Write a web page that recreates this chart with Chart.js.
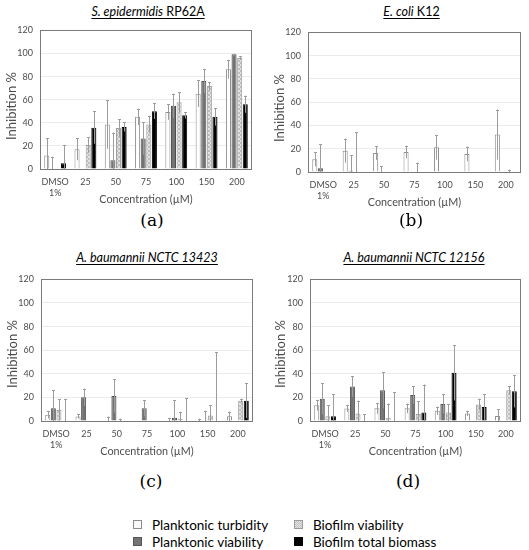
<!DOCTYPE html>
<html>
<head>
<meta charset="utf-8">
<script src="https://cdn.jsdelivr.net/npm/chart.js@4.4.1/dist/chart.umd.min.js"></script>
<style>
  html, body { margin:0; padding:0; background:#fff; }
  body { width:529px; height:550px; position:relative; overflow:hidden; font-family: Lato, "Open Sans", sans-serif; }
  .panel { position:absolute; }
  .ttl { position:absolute; text-align:center; font-size:12.5px; line-height:14px; color:#000; white-space:nowrap; }
  .ttl u { text-decoration: underline; text-underline-offset: 2px; }
  .ytl { position:absolute; width:100px; height:16px; line-height:16px; text-align:center; font-size:13px; color:#4d4d4d; transform: rotate(-90deg); white-space:nowrap; }
  .lab { position:absolute; font-family:"DejaVu Serif", serif; font-size:17px; line-height:20px; color:#000; text-align:center; width:40px; }
  .leg { position:absolute; font-size:13.5px; line-height:16px; color:#000; white-space:nowrap; }
  .sw { position:absolute; width:7px; height:7px; box-sizing:content-box; }
</style>
</head>
<body>

<script>
// ---------- DATA ----------
const categories = [["DMSO", "1%"], "25", "50", "75", "100", "150", "200"];
const yTicks = [0, 20, 40, 60, 80, 100, 120];
const seriesNames = ["Planktonic turbidity", "Planktonic viability", "Biofilm viability", "Biofilm total biomass"];

// (a) S. epidermidis RP62A
const aTurbidity     = [11.7, 17.2, 38.6, 45.2, 49.3, 65.2, 86.3];
const aTurbidityErr  = [15, 9.6, 21, 7, 6.7, 11.5, 8.2];
const aViability     = [0.5, 0.5, 7.6, 26.3, 54.7, 76.1, 99.4];
const aViabilityErr  = [10, 0, 24, 14, 10.5, 10.4, 0.5];
const aBiofilmViab   = [0, 20.8, 35.6, 38.6, 57.8, 71.8, 96.2];
const aBiofilmViabErr= [0, 7, 7.6, 7.4, 8.8, 3.5, 1.5];
const aBiomass       = [4.9, 35.8, 36.4, 50.1, 46.5, 45.2, 56.1];
const aBiomassErr    = [16, 14, 4, 6.8, 2.8, 7.6, 7.4];

// (b) E. coli K12
const bTurbidity     = [10.9, 18.3, 16.4, 17.2, 21.3, 15.5, 32.2];
const bTurbidityErr  = [6, 10.4, 6, 5.4, 10.6, 6.3, 21.5];
const bViability     = [3.3, 1.1, 0, 0, 0, 0, 0];
const bViabilityErr  = [20.5, 13.4, 5, 0, 0, 0, 0];
const bBiofilmViab   = [0, 0, 0, 0, 0, 0, 0];
const bBiofilmViabErr= [0, 34, 0, 8, 0, 0, 2];
const bBiomass       = [0, 0, 0, 0, 0, 0, 0];
const bBiomassErr    = [0, 0, 0, 0, 0, 0, 0];

// (c) A. baumannii NCTC 13423
const cTurbidity     = [5.4, 3.8, 0, 0, 0, 0, 4];
const cTurbidityErr  = [3.2, 1.8, 3.8, 0, 2.7, 1.9, 4];
const cViability     = [10.7, 20.1, 21.2, 10.7, 2.7, 0, 0];
const cViabilityErr  = [15.3, 7.3, 14.2, 6.7, 14.7, 8.6, 0];
const cBiofilmViab   = [9.4, 0, 0, 0, 1.9, 4.6, 17.2];
const cBiofilmViabErr= [9.1, 0, 1.9, 0, 5.9, 8.8, 1.6];
const cBiomass       = [0, 0, 0, 0, 0, 0, 17.2];
const cBiomassErr    = [18.8, 0, 0, 0, 19.3, 58.3, 14.7];

// (d) A. baumannii NCTC 12156
const dTurbidity     = [13.4, 10.5, 10.7, 10.7, 8.6, 6.4, 4.3];
const dTurbidityErr  = [4.6, 2.9, 4.6, 4.1, 3.5, 2.2, 5.6];
const dViability     = [18.8, 29.3, 26, 22, 14.5, 0, 0];
const dViabilityErr  = [13.1, 8.8, 15.3, 7.3, 8.1, 0, 0];
const dBiofilmViab   = [4, 6.4, 2.7, 5.9, 7.2, 14, 26];
const dBiofilmViabErr= [9.2, 10.8, 12.1, 10.7, 7.3, 4.8, 3.5];
const dBiomass       = [4, 0, 0, 7.2, 40.8, 11.8, 25.2];
const dBiomassErr    = [18.8, 5.9, 24.2, 23.7, 23.4, 11, 13.7];
</script>

<div class="ttl" style="left:40px; width:216px; top:5px;"><u><i>S. epidermidis</i> RP62A</u></div>
<div class="ttl" style="left:308px; width:207px; top:5px;"><u><i>E. coli</i> K12</u></div>
<div class="ttl" style="left:41px; width:212px; top:251px;"><u><i>A. baumannii NCTC 13423</i></u></div>
<div class="ttl" style="left:310px; width:208px; top:251px;"><u><i>A. baumannii NCTC 12156</i></u></div>

<div class="panel" id="pa"><canvas id="ca"></canvas></div>
<div class="panel" id="pb"><canvas id="cb"></canvas></div>
<div class="panel" id="pc"><canvas id="cc"></canvas></div>
<div class="panel" id="pd"><canvas id="cd"></canvas></div>

<div class="ytl" style="left:-39px; top:98px;">Inhibition %</div>
<div class="ytl" style="left:229px; top:100px;">Inhibition %</div>
<div class="ytl" style="left:-38px; top:346px;">Inhibition %</div>
<div class="ytl" style="left:230px; top:346px;">Inhibition %</div>

<div class="lab" style="left:132px; top:210px;">(a)</div>
<div class="lab" style="left:391px; top:210px;">(b)</div>
<div class="lab" style="left:131px; top:471px;">(c)</div>
<div class="lab" style="left:388px; top:471px;">(d)</div>

<div class="sw" style="left:133px; top:520px; background:#fafafa; border:1px solid #8c8c8c;"></div>
<div class="leg" style="left:152px; top:517px;" id="l0"></div>
<div class="sw" style="left:133px; top:537px; background:#747474; border:1px solid #555;"></div>
<div class="leg" style="left:152px; top:534px;" id="l1"></div>
<div class="sw" style="left:294px; top:520px; background: repeating-conic-gradient(#c2c2c2 0 25%, #e4e4e4 0 50%) 0 0/2px 2px; border:1px solid #9a9a9a;"></div>
<div class="leg" style="left:313px; top:517px;" id="l2"></div>
<div class="sw" style="left:294px; top:537px; background:#000; border:1px solid #000;"></div>
<div class="leg" style="left:313px; top:534px;" id="l3"></div>

<script>
seriesNames.forEach((n, i) => { document.getElementById('l' + i).textContent = n; });

function checker() {
  const c = document.createElement('canvas');
  c.width = 4; c.height = 4;
  const g = c.getContext('2d');
  g.fillStyle = '#e2e2e2'; g.fillRect(0, 0, 4, 4);
  g.fillStyle = '#bdbdbd';
  g.fillRect(0, 0, 2, 2); g.fillRect(2, 2, 2, 2);
  return g.createPattern(c, 'repeat');
}

const framePlugin = {
  id: 'frame',
  afterDatasetsDraw(chart) {
    const a = chart.chartArea, ctx = chart.ctx;
    ctx.save();
    ctx.strokeStyle = '#7a7a7a';
    ctx.lineWidth = 1;
    ctx.strokeRect(Math.round(a.left) + 0.5, Math.round(a.top) + 0.5,
                   Math.round(a.right - a.left) - 1, Math.round(a.bottom - a.top));
    ctx.restore();
  }
};

const errorPlugin = {
  id: 'errbars',
  afterDatasetsDraw(chart) {
    const ctx = chart.ctx, ys = chart.scales.y;
    ctx.save();
    ctx.strokeStyle = '#9c9c9c';
    ctx.lineWidth = 1;
    chart.data.datasets.forEach((ds, i) => {
      const meta = chart.getDatasetMeta(i);
      meta.data.forEach((bar, j) => {
        const v = ds.data[j], e = ds.errors[j];
        if (!e) return;
        const x = Math.round(bar.x) + 0.5;
        const yt = ys.getPixelForValue(v + e);
        const yb = ys.getPixelForValue(Math.max(0, v - e));
        ctx.beginPath();
        ctx.moveTo(x, yb); ctx.lineTo(x, yt);
        ctx.moveTo(x - 1.5, Math.round(yt) + 0.5); ctx.lineTo(x + 1.5, Math.round(yt) + 0.5);
        ctx.stroke();
      });
    });
    ctx.restore();
  }
};

const tickFont = { family: 'Lato', size: 9 };
const titleFont = { family: 'Lato', size: 10.8 };
const labelColor = '#4d4d4d';

function makePanel(divId, canvasId, plot, series) {
  const padTop = 5, padRight = 6, yW = 40, xH = 37, padBottom = 2;
  const left = plot.L - yW, top = plot.T - padTop;
  const w = plot.R + padRight - left, h = plot.B + xH + padBottom - top;
  const div = document.getElementById(divId);
  div.style.left = left + 'px'; div.style.top = top + 'px';
  div.style.width = w + 'px'; div.style.height = h + 'px';
  const cv = document.getElementById(canvasId);
  cv.style.width = w + 'px'; cv.style.height = h + 'px';
  cv.width = w; cv.height = h;
  const styles = [
    { backgroundColor: '#ffffff', borderColor: '#8c8c8c', borderWidth: 1 },
    { backgroundColor: '#737373', borderColor: '#4f4f4f', borderWidth: 1 },
    { backgroundColor: checker(), borderColor: '#a0a0a0', borderWidth: 1 },
    { backgroundColor: '#000000', borderColor: '#000000', borderWidth: 1 }
  ];
  new Chart(cv, {
    type: 'bar',
    data: {
      labels: categories,
      datasets: series.map((s, i) => Object.assign({
        label: seriesNames[i], data: s[0], errors: s[1],
        categoryPercentage: 0.74, barPercentage: 0.9
      }, styles[i]))
    },
    options: {
      responsive: false, animation: false, maintainAspectRatio: false,
      devicePixelRatio: 1,
      layout: { padding: { top: padTop, right: padRight, left: 0, bottom: padBottom } },
      plugins: { legend: { display: false }, tooltip: { enabled: false } },
      scales: {
        x: {
          grid: { display: false, drawTicks: false },
          border: { display: false },
          ticks: { font: tickFont, color: labelColor, padding: 8, maxRotation: 0, autoSkip: false },
          title: { display: true, text: 'Concentration (µM)', font: titleFont, color: labelColor, padding: 0 },
          afterFit: s => { s.height = xH; }
        },
        y: {
          min: yTicks[0], max: yTicks[yTicks.length - 1],
          ticks: { stepSize: yTicks[1] - yTicks[0], font: tickFont, color: labelColor, padding: 7 },
          grid: { color: '#ebebeb', drawTicks: false },
          border: { display: false },
          title: { display: false },
          afterFit: s => { s.width = yW; }
        }
      }
    },
    plugins: [framePlugin, errorPlugin]
  });
}

makePanel('pa', 'ca', { L: 40, T: 23, R: 252, B: 169 }, [
  [aTurbidity, aTurbidityErr], [aViability, aViabilityErr], [aBiofilmViab, aBiofilmViabErr], [aBiomass, aBiomassErr]]);
makePanel('pb', 'cb', { L: 308, T: 25, R: 521, B: 172 }, [
  [bTurbidity, bTurbidityErr], [bViability, bViabilityErr], [bBiofilmViab, bBiofilmViabErr], [bBiomass, bBiomassErr]]);
makePanel('pc', 'cc', { L: 41, T: 272, R: 253, B: 421 }, [
  [cTurbidity, cTurbidityErr], [cViability, cViabilityErr], [cBiofilmViab, cBiofilmViabErr], [cBiomass, cBiomassErr]]);
makePanel('pd', 'cd', { L: 310, T: 272, R: 521, B: 421 }, [
  [dTurbidity, dTurbidityErr], [dViability, dViabilityErr], [dBiofilmViab, dBiofilmViabErr], [dBiomass, dBiomassErr]]);
</script>
</body>
</html>
